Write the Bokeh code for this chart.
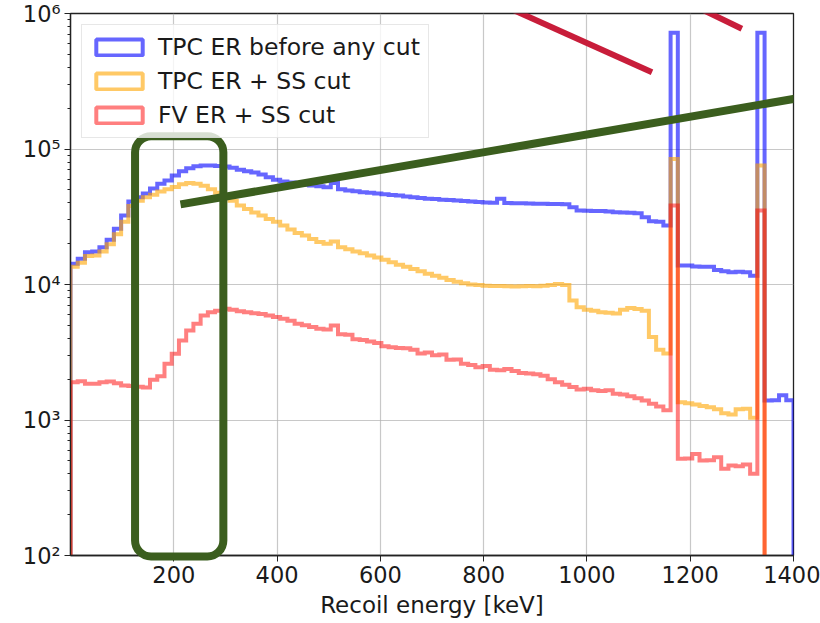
import numpy as np
from bokeh.plotting import figure
from bokeh.models import (Range1d, FixedTicker, LogTicker, Legend, LegendItem,
                          ColumnDataSource, Arrow)
from bokeh.embed import file_html
from bokeh.resources import INLINE

# Histogram binning: 100 bins of 14 keV between 0 and 1400 keV
bin_edges = np.linspace(0, 1400, 101)

# Counts per bin, TPC ER before any cut
tpc_all = [
    14200, 15500, 17300, 17500, 18800, 21400, 25800, 32300, 41000, 44000,
    47000, 51000, 55300, 58600, 63700, 68600, 72000, 74600, 75500, 75500,
    75000, 74300, 72600, 70200, 68500, 67000, 64800, 62000, 59200, 57500,
    56500, 55300, 54500, 53800, 53000, 52200, 56000, 50500, 49500, 48800,
    48000, 47500, 46900, 46300, 45800, 45400, 44600, 44000, 43500, 43000,
    42700, 42300, 42000, 41700, 41300, 41000, 40600, 40300, 40100, 43000,
    40000, 39800, 39700, 39600, 39500, 39400, 39300, 39200, 39100, 37200,
    35100, 35000, 34900, 34800, 34600, 34200, 34000, 33800, 33500, 31400,
    29300, 29000, 27200, 720000, 13800, 13800, 13600, 13500, 13500, 12800,
    12500, 12300, 12400, 12300, 11600, 720000, 1390, 1400, 1520, 1400,
]

# Counts per bin, TPC ER + single-site cut
tpc_ss = [
    13500, 14500, 16200, 16400, 17500, 19800, 23500, 29000, 38000, 41500,
    44000, 46000, 48500, 50500, 52500, 55000, 56000, 55500, 53500, 50500,
    47500, 45000, 41500, 38300, 36000, 34000, 32300, 30500, 29000, 27200,
    25500, 24000, 23000, 21700, 20600, 20000, 20800, 18800, 18200, 17500,
    17000, 16400, 15800, 15200, 14600, 14000, 13500, 13000, 12500, 12000,
    11600, 11200, 10800, 10500, 10200, 10000, 9900, 9800, 9750, 9750,
    9700, 9650, 9700, 9750, 9700, 9800, 9900, 10100, 9900, 7620,
    6800, 6500, 6400, 6250, 6200, 6100, 6500, 6700, 6600, 6400,
    4100, 3300, 3100, 84500, 1350, 1330, 1300, 1270, 1240, 1200,
    1120, 1100, 1200, 1210, 1040, 75500, 0, 0, 0, 0,
]

# Counts per bin, fiducial volume ER + single-site cut
fv_ss = [
    1900, 1930, 1850, 1850, 1900, 1920, 1870, 1800, 1780, 1760,
    1740, 1980, 2100, 2600, 3080, 3860, 4580, 5130, 5910, 6250,
    6400, 6620, 6500, 6360, 6250, 6140, 6050, 5910, 5750, 5580,
    5400, 5130, 5000, 4850, 4710, 4650, 4980, 4300, 4250, 3950,
    3900, 3800, 3700, 3500, 3440, 3400, 3380, 3300, 3100, 3150,
    3000, 3050, 2780, 2800, 2600, 2550, 2450, 2500, 2350, 2330,
    2380, 2300, 2220, 2200, 2180, 2120, 2000, 1900, 1820, 1750,
    1680, 1700, 1660, 1640, 1660, 1560, 1540, 1500, 1450, 1390,
    1320, 1260, 1180, 38300, 517, 520, 562, 502, 505, 531,
    437, 461, 455, 470, 401, 35100, 0, 0, 0, 0,
]

series_labels = ["TPC ER before any cut", "TPC ER + SS cut", "FV ER + SS cut"]
x_ticks = [200, 400, 600, 800, 1000, 1200, 1400]
y_tick_labels = {100: "10²", 1000: "10³", 10000: "10⁴", 100000: "10⁵", 1000000: "10⁶"}

FLOOR = 1.0  # empty bins drop below the visible range


def step_outline(edges, counts):
    """Outline of a step histogram, closed down to the floor at both ends."""
    xs = [edges[0]]
    ys = [FLOOR]
    for i, c in enumerate(counts):
        v = c if c > 0 else FLOOR
        xs += [edges[i], edges[i + 1]]
        ys += [v, v]
    xs.append(edges[-1])
    ys.append(FLOOR)
    return xs, ys


p = figure(width=820, height=623, output_backend="svg", toolbar_location=None,
           y_axis_type="log",
           x_range=Range1d(0, 1400), y_range=Range1d(100, 1e6),
           min_border_left=70, min_border_right=27,
           min_border_top=13, min_border_bottom=68)
p.background_fill_color = "white"
p.border_fill_color = "white"
p.outline_line_color = "#222222"
p.outline_line_width = 1.3

styles = [("blue", 0.6), ("orange", 0.6), ("red", 0.5)]
legend_items = []
for counts, label, (col, alpha) in zip([tpc_all, tpc_ss, fv_ss], series_labels, styles):
    xs, ys = step_outline(bin_edges, counts)
    p.line(xs, ys, line_color=col, line_alpha=alpha, line_width=4,
           line_join="miter")
    # open rectangle used as the legend key; its single box sits off the axes
    key_src = ColumnDataSource(dict(left=[-300], right=[-200], top=[1.0], bottom=[0.5]))
    key = p.quad(left="left", right="right", top="top", bottom="bottom",
                 source=key_src, fill_color="white", fill_alpha=0.0,
                 line_color=col, line_alpha=alpha, line_width=4)
    legend_items.append(LegendItem(label=label, renderers=[key]))

# axes
xa = p.xaxis[0]
xa.ticker = FixedTicker(ticks=x_ticks)
xa.axis_label = "Recoil energy [keV]"
ya = p.yaxis[0]
ya.ticker = LogTicker(num_minor_ticks=10)
ya.major_label_overrides = y_tick_labels
for ax in (xa, ya):
    ax.axis_line_color = "#222222"
    ax.axis_line_width = 1.3
    ax.major_tick_line_color = "#222222"
    ax.minor_tick_line_color = "#222222"
    ax.major_tick_out = 6
    ax.major_tick_in = 0
    ax.minor_tick_out = 3
    ax.minor_tick_in = 0
    ax.major_label_text_font = "DejaVu Sans"
    ax.major_label_text_font_size = "22.5px"
    ax.major_label_text_color = "#1a1a1a"
    ax.axis_label_text_font = "DejaVu Sans"
    ax.axis_label_text_font_size = "23px"
    ax.axis_label_text_font_style = "normal"
    ax.axis_label_text_color = "#1a1a1a"
xa.minor_tick_line_color = None
xa.major_label_standoff = 4
xa.axis_label_standoff = 6
ya.major_label_standoff = 4

p.xgrid.grid_line_color = "#b0b0b0"
p.ygrid.grid_line_color = "#b0b0b0"
p.xgrid.grid_line_alpha = 0.7
p.ygrid.grid_line_alpha = 0.7
p.xgrid.grid_line_width = 1.2
p.ygrid.grid_line_width = 1.2

# legend sits just over the grid, beneath the spectra and highlights
legend = Legend(items=legend_items, location="top_left", level="underlay")
legend.margin = 11
legend.padding = 8
legend.spacing = 6
legend.glyph_width = 58
legend.glyph_height = 20
legend.label_height = 20
legend.label_standoff = 10
legend.label_text_font = "DejaVu Sans"
legend.label_text_font_size = "23.5px"
legend.label_text_color = "#1a1a1a"
legend.border_line_color = "#d0d0d0"
legend.border_line_width = 1.2
legend.background_fill_alpha = 0.8
p.add_layout(legend, "center")

# hand-drawn highlights over the spectrum
GREEN = "#3b5e1e"
CRIMSON = "#c81d3a"
p.quad(left=[125], right=[296], bottom=[98.4], top=[1.24e5],
       fill_alpha=0.0, line_color=GREEN, line_alpha=1.0, line_width=8,
       border_radius=16, level="overlay")
p.add_layout(Arrow(x_start=213, y_start=3.9e4, x_end=1470, y_end=2.6e5,
                   start=None, end=None, line_color=GREEN, line_width=8,
                   level="overlay"))
p.add_layout(Arrow(x_start=773, y_start=1.48e6, x_end=1126, y_end=3.69e5,
                   start=None, end=None, line_color=CRIMSON, line_width=6,
                   level="overlay"))
p.add_layout(Arrow(x_start=1147, y_start=1.48e6, x_end=1300, y_end=7.71e5,
                   start=None, end=None, line_color=CRIMSON, line_width=6,
                   level="overlay"))

open("out.html", "w").write(file_html(p, INLINE))
